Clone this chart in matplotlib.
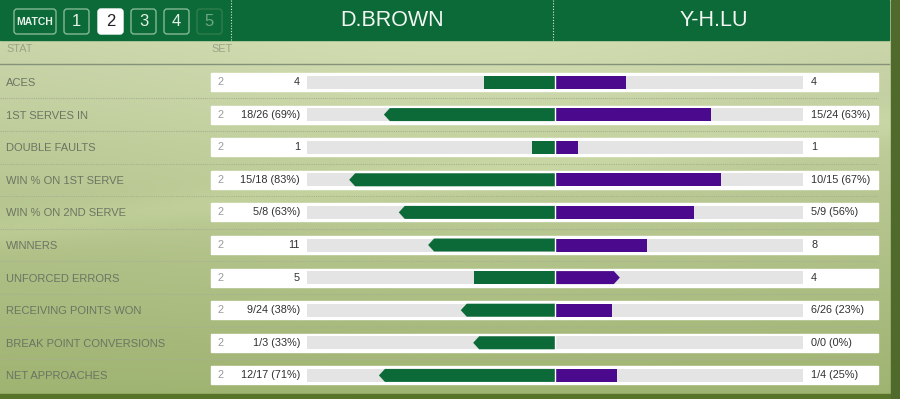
import numpy as np
import matplotlib
matplotlib.use("Agg")
import matplotlib.pyplot as plt
from matplotlib.patches import Polygon, FancyBboxPatch, Rectangle

plt.rcParams['font.family'] = ['Liberation Sans', 'DejaVu Sans']

# ---------------- data ----------------
players = ["D.BROWN", "Y-H.LU"]
set_buttons = ["MATCH", "1", "2", "3", "4", "5"]
active_set = "2"
stats = ["ACES", "1ST SERVES IN", "DOUBLE FAULTS", "WIN % ON 1ST SERVE",
         "WIN % ON 2ND SERVE", "WINNERS", "UNFORCED ERRORS",
         "RECEIVING POINTS WON", "BREAK POINT CONVERSIONS", "NET APPROACHES"]
set_col = ["2"] * 10
left_text = ["4", "18/26 (69%)", "1", "15/18 (83%)", "5/8 (63%)", "11", "5",
             "9/24 (38%)", "1/3 (33%)", "12/17 (71%)"]
right_text = ["4", "15/24 (63%)", "1", "10/15 (67%)", "5/9 (56%)", "8", "4",
              "6/26 (23%)", "0/0 (0%)", "1/4 (25%)"]
left_val = [4, 69, 1, 83, 63, 11, 5, 38, 33, 71]
right_val = [4, 63, 1, 67, 56, 8, 4, 23, 0, 25]
bar_max = [14, 100, 11, 100, 100, 21.5, 15.3, 100, 100, 100]
winner = [None, "L", None, "L", "L", "L", "R", "L", "L", "L"]

# ---------------- style / layout ----------------
W, H = 900, 399
GREEN = "#0b6a37"
PURPLE = "#4b0a8e"
GRAY = "#e4e4e4"
CENTER = 555
HALF = 248
ROW0 = 82
ROWSTEP = 32.6
BOX_L, BOX_R = 211, 878
BOX_H = 18
BAR_H = 13
TIP = 6

fig = plt.figure(figsize=(W / 100, H / 100), dpi=100)
ax = fig.add_axes([0, 0, 1, 1])
ax.set_xlim(0, W)
ax.set_ylim(H, 0)
ax.axis("off")

# background grass gradient
yy, xx = np.mgrid[0:H, 0:W]
t = yy / H
base_top = np.array([0.80, 0.84, 0.68])
base_bot = np.array([0.62, 0.70, 0.44])
img = base_top[None, None, :] * (1 - t[..., None]) + base_bot[None, None, :] * t[..., None]
glow = np.exp(-((xx - 450) / 380.0) ** 2 - ((yy - 60) / 220.0) ** 2)
img = img + 0.04 * glow[..., None]
band = np.exp(-((yy - (230 - 0.12 * xx)) / 18.0) ** 2)
img = img + 0.03 * band[..., None]
img = np.clip(img, 0, 1)
ax.imshow(img, extent=[0, W, H, 0], aspect="auto", zorder=0)

# bottom and right dark strips
ax.add_patch(Rectangle((0, 394), W, H - 394, color="#587428", zorder=1))
ax.add_patch(Rectangle((891, 0), W - 891, H, color="#4f6a2a", zorder=1))

# header band
ax.add_patch(Rectangle((0, 0), 889, 40, color=GREEN, zorder=2))
ax.plot([231, 231], [0, 40], color="#d8e8dc", lw=0.8, ls=(0, (1, 1.5)), zorder=3)
ax.plot([553, 553], [0, 40], color="#d8e8dc", lw=0.8, ls=(0, (1, 1.5)), zorder=3)

btn_x = [14, 64, 98, 131, 164, 197]
btn_w = [42, 25, 25, 25, 25, 25]
for lab, bx, bw in zip(set_buttons, btn_x, btn_w):
    active = lab == active_set
    last = lab == "5"
    fc = "white" if active else GREEN
    ec = "white" if active else ("#2f7d4b" if last else "#86b996")
    ax.add_patch(FancyBboxPatch((bx, 9), bw, 25,
                                boxstyle="round,pad=0,rounding_size=3",
                                fc=fc, ec=ec, lw=1.0, zorder=3))
    tc = "#6fa682" if last else "#e6f0e8"
    if active:
        tc = "#222222"
    fs = 7.5 if lab == "MATCH" else 12
    ax.text(bx + bw / 2, 22, lab, ha="center", va="center", color=tc,
            fontsize=fs, fontweight="bold" if lab == "MATCH" else "normal",
            zorder=4)

ax.text(392, 21, players[0], ha="center", va="center", color="#f2f6f2",
        fontsize=15.5, zorder=4)
ax.text(714, 21, players[1], ha="center", va="center", color="#f2f6f2",
        fontsize=15.5, zorder=4)

# column headings
ax.text(6, 49, "STAT", ha="left", va="center", color="#98a488", fontsize=7.8, zorder=4)
ax.text(211, 49, "SET", ha="left", va="center", color="#98a488", fontsize=7.8, zorder=4)
ax.plot([0, 889], [63.5, 63.5], color="#86917a", lw=1.0, zorder=3)

for i, name in enumerate(stats):
    y = ROW0 + i * ROWSTEP
    if i < len(stats) - 1:
        ax.plot([0, 878], [y + ROWSTEP / 2, y + ROWSTEP / 2], color="#a7b193",
                lw=0.8, ls=(0, (1, 1)), zorder=3)
    ax.text(6, y + 1, name, ha="left", va="center", color="#6b7562",
            fontsize=8, zorder=4)
    ax.add_patch(Rectangle((BOX_L, y - BOX_H / 2), BOX_R - BOX_L, BOX_H,
                           color="white", zorder=3))
    ax.barh(y, 2 * HALF, left=CENTER - HALF, height=BAR_H, color=GRAY, zorder=4)
    ax.text(218, y, set_col[i], ha="left", va="center", color="#9a9a9a",
            fontsize=7.8, zorder=5)
    ax.text(300, y, left_text[i], ha="right", va="center", color="#303030",
            fontsize=7.8, zorder=5)
    ax.text(811, y, right_text[i], ha="left", va="center", color="#303030",
            fontsize=7.8, zorder=5)

    lw_ = left_val[i] / bar_max[i] * HALF
    rw_ = right_val[i] / bar_max[i] * HALF
    top, bot = y - BAR_H / 2, y + BAR_H / 2
    if winner[i] == "L" and lw_ > 0:
        e = CENTER - lw_
        ax.add_patch(Polygon([(CENTER, top), (e + TIP, top), (e, y),
                              (e + TIP, bot), (CENTER, bot)],
                             closed=True, color=GREEN, lw=0, zorder=5))
    elif lw_ > 0:
        ax.barh(y, -lw_, left=CENTER, height=BAR_H, color=GREEN, zorder=5)
    if winner[i] == "R" and rw_ > 0:
        e = CENTER + rw_
        ax.add_patch(Polygon([(CENTER, top), (e - TIP, top), (e, y),
                              (e - TIP, bot), (CENTER, bot)],
                             closed=True, color=PURPLE, lw=0, zorder=5))
    elif rw_ > 0:
        ax.barh(y, rw_, left=CENTER, height=BAR_H, color=PURPLE, zorder=5)
    ax.plot([CENTER, CENTER], [top, bot], color="white", lw=1.0, zorder=6)

fig.savefig("out.png", dpi=100)
